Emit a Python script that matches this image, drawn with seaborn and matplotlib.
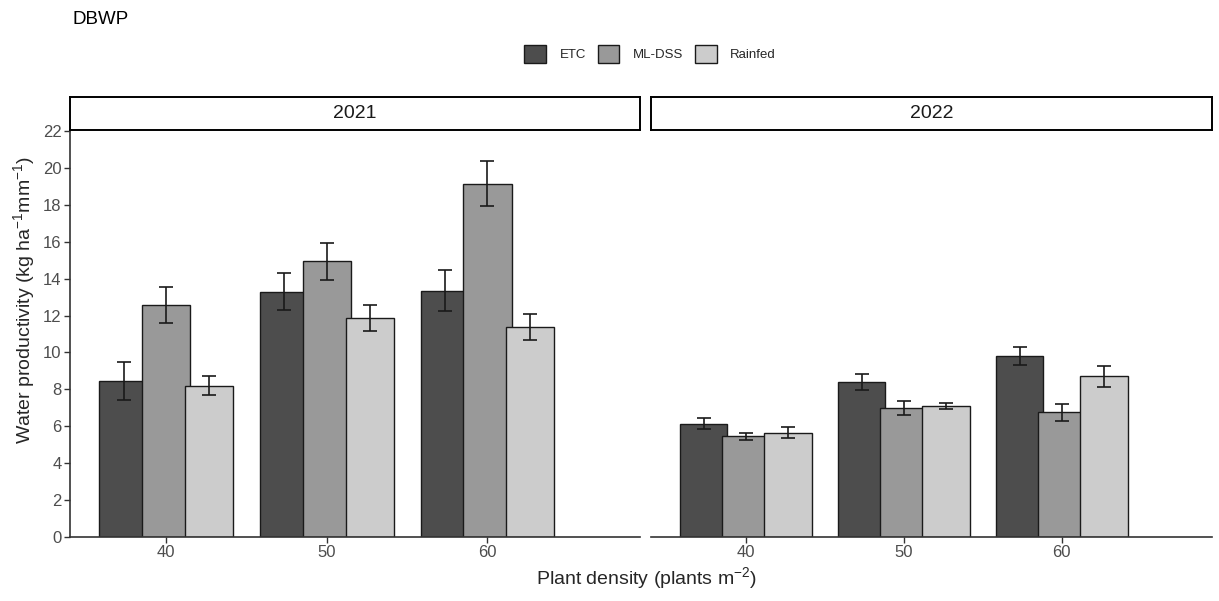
import numpy as np
import pandas as pd
import matplotlib
matplotlib.use("Agg")
import matplotlib.pyplot as plt
import matplotlib.patches as mpatches
import seaborn as sns

# ---- data ----
density = ["40", "50", "60"]
treatments = ["ETC", "ML-DSS", "Rainfed"]
years = ["2021", "2022"]

wp_2021_etc = [8.45, 13.30, 13.35]
wp_2021_ml = [12.55, 14.95, 19.15]
wp_2021_rf = [8.20, 11.85, 11.40]
se_2021_etc = [1.03, 1.00, 1.10]
se_2021_ml = [0.97, 1.00, 1.20]
se_2021_rf = [0.53, 0.70, 0.70]

wp_2022_etc = [6.15, 8.40, 9.80]
wp_2022_ml = [5.45, 7.00, 6.75]
wp_2022_rf = [5.65, 7.10, 8.70]
se_2022_etc = [0.30, 0.45, 0.50]
se_2022_ml = [0.20, 0.37, 0.45]
se_2022_rf = [0.30, 0.17, 0.55]

colors = ["#4d4d4d", "#999999", "#cccccc"]
yticks = list(range(0, 23, 2))

rows = []
vals = {
    "2021": [(wp_2021_etc, se_2021_etc), (wp_2021_ml, se_2021_ml), (wp_2021_rf, se_2021_rf)],
    "2022": [(wp_2022_etc, se_2022_etc), (wp_2022_ml, se_2022_ml), (wp_2022_rf, se_2022_rf)],
}
for yr in years:
    for t, (m, s) in zip(treatments, vals[yr]):
        for d, mv, sv in zip(density, m, s):
            rows.append(dict(year=yr, treatment=t, density=d, wp=mv, se=sv))
df = pd.DataFrame(rows)

# ---- style ----
sns.set_theme(style="white")
plt.rcParams["font.family"] = ["Liberation Sans", "DejaVu Sans"]
plt.rcParams["mathtext.fontset"] = "custom"
plt.rcParams["mathtext.rm"] = "Liberation Sans"
plt.rcParams["mathtext.it"] = "Liberation Sans:italic"
plt.rcParams["mathtext.default"] = "regular"

fig = plt.figure(figsize=(12.19, 6.01), dpi=100)
fig.patch.set_facecolor("white")

ax_pos = [
    [70 / 1219, 1 - 537 / 601, (640 - 70) / 1219, (537 - 131) / 601],
    [651 / 1219, 1 - 537 / 601, (1212 - 651) / 1219, (537 - 131) / 601],
]

for i, yr in enumerate(years):
    ax = fig.add_axes(ax_pos[i])
    sub = df[df.year == yr]
    sns.barplot(data=sub, x="density", y="wp", hue="treatment",
                order=density, hue_order=treatments, palette=colors,
                errorbar=None, width=0.8, edgecolor="#1a1a1a", linewidth=1.0,
                saturation=1, legend=False, ax=ax)
    for t, cont in zip(treatments, ax.containers):
        tsub = sub[sub.treatment == t].set_index("density").loc[density]
        xs = []
        for p in cont.patches:
            c = p.get_x() + p.get_width() / 2
            p.set_width(0.3)
            p.set_x(c - 0.15)
            xs.append(c)
        ax.errorbar(xs, tsub["wp"].values, yerr=tsub["se"].values, fmt="none",
                    ecolor="#1a1a1a", elinewidth=1.2, capsize=5, capthick=1.2,
                    zorder=5)
    ax.set_xlim(-0.6, 2.95)
    ax.set_ylim(0, 22)
    ax.set_xlabel("")
    ax.set_ylabel("")
    ax.set_facecolor("white")
    for s in ["top", "right"]:
        ax.spines[s].set_visible(False)
    ax.spines["bottom"].set_color("#333333")
    ax.spines["bottom"].set_linewidth(1.2)
    ax.tick_params(axis="x", length=4, width=1, color="#333333",
                   labelsize=12, labelcolor="#4d4d4d", pad=2, bottom=True)
    if i == 0:
        ax.spines["left"].set_color("#333333")
        ax.spines["left"].set_linewidth(1.2)
        ax.set_yticks(yticks)
        ax.tick_params(axis="y", length=4, width=1, color="#333333",
                       labelsize=12, labelcolor="#4d4d4d", pad=2, left=True)
    else:
        ax.spines["left"].set_visible(False)
        ax.set_yticks([])
    # strip
    strip = fig.add_axes([ax_pos[i][0], 1 - 130 / 601, ax_pos[i][2], 33 / 601])
    strip.set_xticks([])
    strip.set_yticks([])
    for s in strip.spines.values():
        s.set_visible(True)
        s.set_color("black")
        s.set_linewidth(1.4)
    strip.set_facecolor("white")
    strip.text(0.5, 0.5, yr, ha="center", va="center", fontsize=14,
               color="#1a1a1a", transform=strip.transAxes)

fig.text(72 / 1219, 1 - 20 / 601, "DBWP", ha="left", va="center", fontsize=13.5,
         color="black")
fig.text(24 / 1219, 1 - 300 / 601, r"Water productivity (kg ha$^{-1}$mm$^{-1}$)",
         rotation=90, ha="center", va="center", fontsize=14)
fig.text(646 / 1219, 1 - 578 / 601, r"Plant density (plants m$^{-2}$)",
         ha="center", va="center", fontsize=14)

handles = [mpatches.Patch(facecolor=c, edgecolor="#1a1a1a", linewidth=1.0, label=t)
           for c, t in zip(colors, treatments)]
fig.legend(handles=handles, loc="center", bbox_to_anchor=(650 / 1219, 1 - 54 / 601),
           ncol=3, frameon=False, fontsize=9.5, handlelength=1.65, handleheight=1.65,
           handletextpad=1.0, columnspacing=0.9)

fig.savefig("out.png", dpi=100, facecolor="white")
